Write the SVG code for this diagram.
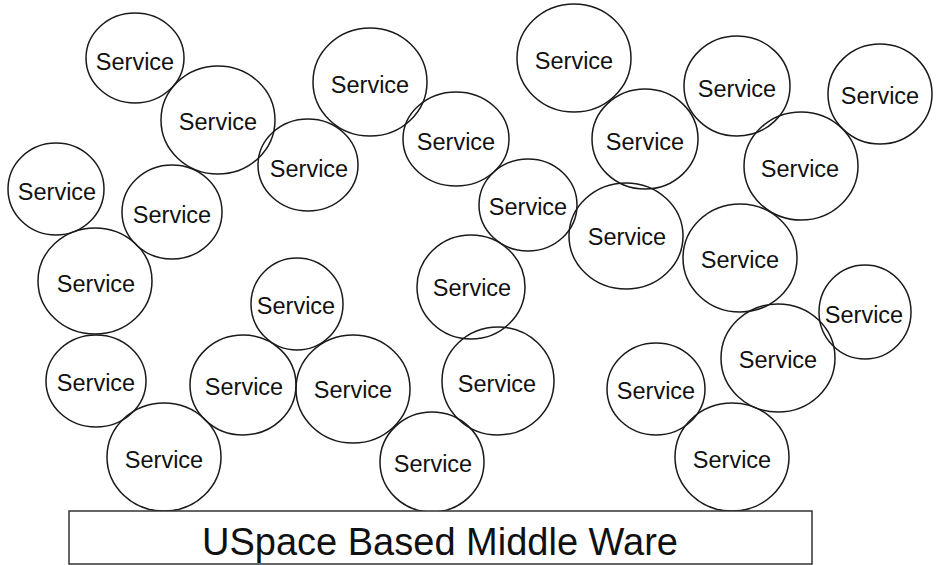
<svg xmlns="http://www.w3.org/2000/svg" width="936" height="565" viewBox="0 0 936 565">
<style>
.c{fill:none;stroke:#1a1a1a;stroke-width:1.5}
.t{font-family:"Liberation Sans",Arial,sans-serif;font-size:23.5px;fill:#111;text-anchor:middle}
.b{fill:#fff;stroke:#333;stroke-width:1.5}
.bt{font-family:"Liberation Sans",Arial,sans-serif;font-size:38px;fill:#111;text-anchor:middle}
</style>
<rect width="936" height="565" fill="#fff"/>
<g id="n1"><ellipse class="c" cx="135" cy="58" rx="49" ry="45"/><text class="t" x="135" y="70">Service</text></g>
<g id="n2"><ellipse class="c" cx="218" cy="120" rx="57" ry="54"/><text class="t" x="218" y="130">Service</text></g>
<g id="n3"><ellipse class="c" cx="308" cy="165" rx="50" ry="46"/><text class="t" x="309" y="177">Service</text></g>
<g id="n4"><ellipse class="c" cx="370" cy="82" rx="57" ry="54"/><text class="t" x="370" y="93">Service</text></g>
<g id="n5"><ellipse class="c" cx="56" cy="189" rx="48" ry="46"/><text class="t" x="57" y="200">Service</text></g>
<g id="n6"><ellipse class="c" cx="172" cy="212" rx="50" ry="47"/><text class="t" x="172" y="223">Service</text></g>
<g id="n7"><ellipse class="c" cx="456" cy="139" rx="53" ry="47"/><text class="t" x="456" y="150">Service</text></g>
<g id="n8"><ellipse class="c" cx="574" cy="58" rx="57" ry="54"/><text class="t" x="574" y="69">Service</text></g>
<g id="n9"><ellipse class="c" cx="645" cy="139" rx="53" ry="50"/><text class="t" x="645" y="150">Service</text></g>
<g id="n10"><ellipse class="c" cx="737" cy="86" rx="53" ry="50"/><text class="t" x="737" y="97">Service</text></g>
<g id="n11"><ellipse class="c" cx="880" cy="94" rx="52" ry="50"/><text class="t" x="880" y="104">Service</text></g>
<g id="n12"><ellipse class="c" cx="801" cy="166" rx="57" ry="54"/><text class="t" x="800" y="177">Service</text></g>
<g id="n13"><ellipse class="c" cx="528" cy="205" rx="49" ry="46"/><text class="t" x="528" y="215">Service</text></g>
<g id="n14"><ellipse class="c" cx="626" cy="236" rx="57" ry="53"/><text class="t" x="627" y="245">Service</text></g>
<g id="n15"><ellipse class="c" cx="740" cy="258" rx="57" ry="54"/><text class="t" x="740" y="268">Service</text></g>
<g id="n16"><ellipse class="c" cx="95" cy="281" rx="57" ry="53"/><text class="t" x="96" y="292">Service</text></g>
<g id="n17"><ellipse class="c" cx="297" cy="304" rx="46" ry="46"/><text class="t" x="296" y="314">Service</text></g>
<g id="n18"><ellipse class="c" cx="471" cy="287" rx="54" ry="52"/><text class="t" x="472" y="296">Service</text></g>
<g id="n19"><ellipse class="c" cx="865" cy="312" rx="46" ry="47"/><text class="t" x="864" y="323">Service</text></g>
<g id="n20"><ellipse class="c" cx="778" cy="358" rx="57" ry="54"/><text class="t" x="778" y="368">Service</text></g>
<g id="n21"><ellipse class="c" cx="96" cy="381" rx="50" ry="46"/><text class="t" x="96" y="391">Service</text></g>
<g id="n22"><ellipse class="c" cx="243" cy="385" rx="53" ry="50"/><text class="t" x="244" y="395">Service</text></g>
<g id="n23"><ellipse class="c" cx="353" cy="389" rx="57" ry="54"/><text class="t" x="353" y="398">Service</text></g>
<g id="n24"><ellipse class="c" cx="498" cy="381" rx="56" ry="54"/><text class="t" x="497" y="392">Service</text></g>
<g id="n25"><ellipse class="c" cx="656" cy="389" rx="49" ry="46"/><text class="t" x="656" y="399">Service</text></g>
<g id="n26"><ellipse class="c" cx="164" cy="457" rx="57" ry="54"/><text class="t" x="164" y="468">Service</text></g>
<g id="n27"><ellipse class="c" cx="432" cy="462" rx="52" ry="50"/><text class="t" x="433" y="472">Service</text></g>
<g id="n28"><ellipse class="c" cx="732" cy="457" rx="57" ry="54"/><text class="t" x="732" y="468">Service</text></g>
<g id="middleware"><rect class="b" x="69" y="511" width="743" height="53"/><text class="bt" x="440" y="555">USpace Based Middle Ware</text></g>
<g id="connectors"/>
</svg>
